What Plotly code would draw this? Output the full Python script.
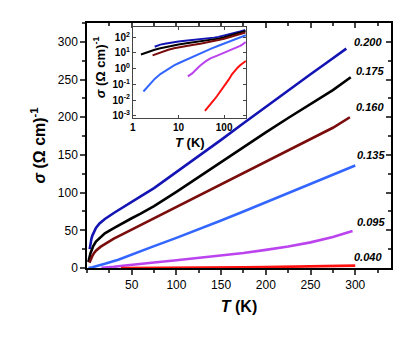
import plotly.graph_objects as go

# doping labels
labels = ["0.200", "0.175", "0.160", "0.135", "0.095", "0.040"]
colors = ["#1414b4", "#000000", "#7a0c0c", "#3366ff", "#bb44ee", "#ff1010"]

# temperature (K) and conductivity (Ohm cm)^-1 for each curve
t_200 = [3, 3.5, 4, 5, 6, 8, 10, 14, 20, 30, 40, 50, 60, 75, 100, 125, 150, 175, 200, 225, 250, 270, 290]
s_200 = [25, 30, 34, 39, 43, 49, 53, 59, 65, 73, 80, 88, 95, 106, 127, 149, 170, 192, 214, 236, 257, 274, 291]

t_175 = [1.5, 2, 3, 4, 5, 7, 10, 15, 20, 30, 40, 50, 60, 75, 100, 125, 150, 175, 200, 225, 250, 275, 295]
s_175 = [8, 11, 16, 20, 23, 29, 35, 41, 46, 53, 60, 66, 72, 82, 101, 121, 141, 160, 180, 199, 218, 236, 253]

t_160 = [2.7, 4, 6, 8, 10, 15, 20, 30, 40, 50, 60, 75, 100, 125, 150, 175, 200, 225, 250, 275, 294]
s_160 = [7, 11, 16, 20, 23, 28, 32, 39, 45, 51, 57, 66, 81, 96, 111, 126, 141, 156, 171, 186, 200]

t_135 = [1.7, 2, 2.5, 3, 4, 5, 6, 8, 10, 15, 20, 35, 52, 75, 100, 125, 150, 175, 200, 225, 250, 275, 300]
s_135 = [0.035, 0.06, 0.12, 0.22, 0.45, 0.7, 1.0, 1.6, 2.2, 3.8, 5.5, 11, 19, 29, 40, 51, 63, 75, 87, 99, 111, 124, 136]

t_095 = [16, 20, 25, 30, 40, 50, 75, 100, 125, 150, 175, 200, 225, 250, 275, 297]
s_095 = [0.32, 0.5, 0.95, 1.6, 3.0, 4.5, 7.3, 10.2, 13.2, 16.5, 20, 24, 28.5, 34, 41, 49]

t_040 = [38, 45, 50, 60, 70, 85, 100, 125, 150, 175, 200, 225, 250, 275, 300]
s_040 = [0.002, 0.0035, 0.005, 0.01, 0.018, 0.038, 0.07, 0.19, 0.45, 0.8, 1.2, 1.65, 2.1, 2.6, 3.1]

temps = [t_200, t_175, t_160, t_135, t_095, t_040]
sigmas = [s_200, s_175, s_160, s_135, s_095, s_040]

# label positions next to the curve ends
label_x = [314, 316, 316, 318, 318, 314]
label_y = [300, 261, 214, 150, 61, 15]

fig = go.Figure()

for t, s, c in zip(temps, sigmas, colors):
    fig.add_trace(go.Scatter(x=t, y=s, mode="lines", line=dict(color=c, width=2.6),
                             showlegend=False, hoverinfo="skip"))
for t, s, c in zip(temps, sigmas, colors):
    fig.add_trace(go.Scatter(x=t, y=s, mode="lines", line=dict(color=c, width=2),
                             xaxis="x2", yaxis="y2", showlegend=False, hoverinfo="skip"))

# empty trace so the inward top/right tick axes are drawn
fig.add_trace(go.Scatter(x=[], y=[], xaxis="x3", yaxis="y3", showlegend=False))

for lab, lx, ly in zip(labels, label_x, label_y):
    fig.add_annotation(x=lx, y=ly, text="<b><i>" + lab + "</i></b>", showarrow=False,
                       font=dict(size=11, color="black"))

# inset axis titles placed by hand
fig.add_annotation(xref="paper", yref="paper", x=0.34, y=0.513, text="<b><i>T</i> (K)</b>",
                   showarrow=False, font=dict(size=13), xanchor="center", yanchor="middle")
fig.add_annotation(xref="paper", yref="paper", x=0.04, y=0.82, textangle=-90,
                   text="<b><i>σ</i> (Ω cm)<sup>-1</sup></b>", showarrow=False, font=dict(size=13),
                   xanchor="center", yanchor="middle")

tick_font = dict(family="Liberation Sans, Arial", size=12, color="black")
# the page body adds an 8 px offset, so the margins are trimmed by that much
fig.update_layout(
    width=415, height=341,
    margin=dict(l=79, r=32, t=15, b=81, autoexpand=False),
    paper_bgcolor="white", plot_bgcolor="white",
    font=dict(family="Liberation Sans, Arial", color="black"),
    xaxis=dict(range=[0, 340], tickvals=[50, 100, 150, 200, 250, 300],
               ticks="outside", ticklen=5, tickwidth=1.5, showline=True, linecolor="black", linewidth=1.5,
               minor=dict(ticks="outside", ticklen=3, tick0=0, dtick=25),
               showgrid=False, zeroline=False, automargin=False,
               tickfont=tick_font, tickprefix="<b>", ticksuffix="</b>",
               title=dict(text="<b><i>T</i> (K)</b>", font=dict(size=16), standoff=10)),
    yaxis=dict(range=[0, 325], tickvals=[0, 50, 100, 150, 200, 250, 300],
               ticks="outside", ticklen=5, tickwidth=1.5, showline=True, linecolor="black", linewidth=1.5,
               minor=dict(ticks="outside", ticklen=3, tick0=0, dtick=25),
               showgrid=False, zeroline=False, automargin=False,
               tickfont=tick_font, tickprefix="<b>", ticksuffix="</b>",
               title=dict(text="<b><i>σ</i> (Ω cm)<sup>-1</sup></b>", font=dict(size=16), standoff=8)),
    xaxis3=dict(overlaying="x", side="top", range=[0, 340], tickvals=[50, 100, 150, 200, 250, 300],
                ticks="inside", ticklen=5, tickwidth=1.5, showline=True, linecolor="black", linewidth=1.5,
                minor=dict(ticks="inside", ticklen=3, tick0=0, dtick=25), automargin=False,
                showticklabels=False, showgrid=False, zeroline=False),
    yaxis3=dict(overlaying="y", side="right", range=[0, 325], tickvals=[0, 50, 100, 150, 200, 250, 300],
                ticks="inside", ticklen=5, tickwidth=1.5, showline=True, linecolor="black", linewidth=1.5,
                minor=dict(ticks="inside", ticklen=3, tick0=0, dtick=25), automargin=False,
                showticklabels=False, showgrid=False, zeroline=False),
    xaxis2=dict(domain=[0.151, 0.523], anchor="y2", type="log", range=[0, 2.48],
                tickvals=[1, 10, 100], ticktext=["<b>1</b>", "<b>10</b>", "<b>100</b>"],
                ticks="inside", ticklen=3, showline=True, linecolor="#444", linewidth=1, mirror="ticks",
                showgrid=False, zeroline=False, tickfont=dict(size=10), automargin=False),
    yaxis2=dict(domain=[0.614, 0.984], anchor="x2", type="log", range=[-3.12, 2.66],
                tickvals=[0.001, 0.01, 0.1, 1, 10, 100],
                ticktext=["<b>10<sup>-3</sup></b>", "<b>10<sup>-2</sup></b>", "<b>10<sup>-1</sup></b>",
                          "<b>10<sup>0</sup></b>", "<b>10<sup>1</sup></b>", "<b>10<sup>2</sup></b>"],
                ticks="inside", ticklen=3, showline=True, linecolor="#444", linewidth=1, mirror="ticks",
                showgrid=False, zeroline=False, tickfont=dict(size=10), automargin=False),
)

fig.write_html("out.html")
